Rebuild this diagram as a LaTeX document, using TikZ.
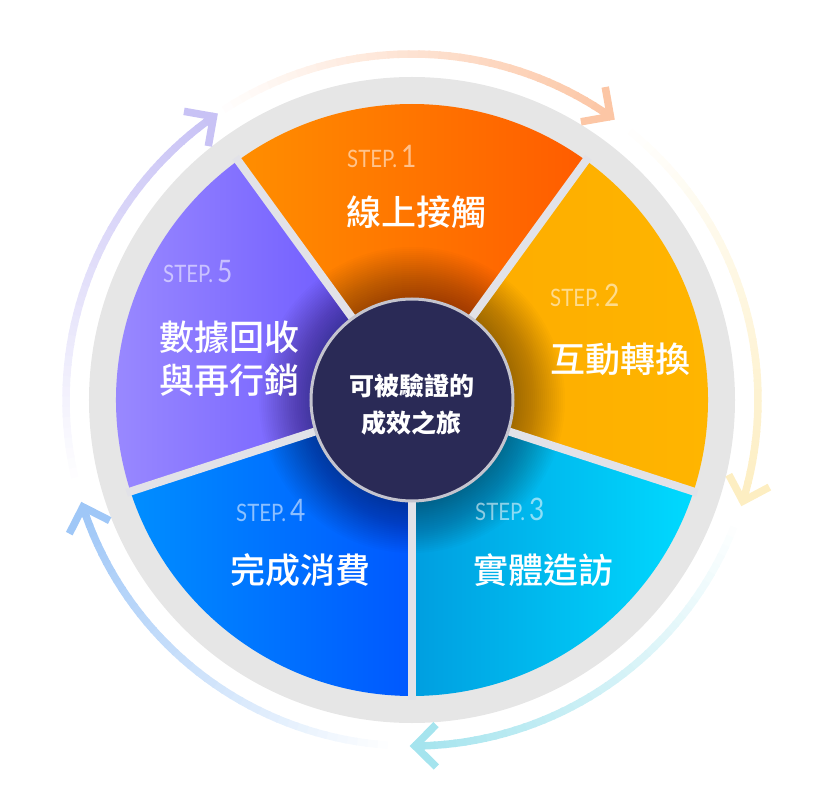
\documentclass[tikz,border=0pt]{standalone}
\usepackage{fontspec}
\usepackage{tikz}
\setmainfont{Lato}
\newfontfamily\cjk{Noto Sans CJK TC}
\newfontfamily\cjkmed{Noto Sans CJK TC}[UprightFont={* Medium}]
\newfontfamily\stepfont[FakeStretch=0.85]{Lato}

\definecolor{ringgray}{HTML}{E6E6E6}
\definecolor{gapgray}{HTML}{E2E2E8}
\definecolor{hubnavy}{HTML}{2A2A56}
\definecolor{hubrim}{HTML}{C4C4CE}
\definecolor{peach}{HTML}{FCC6A5}
\definecolor{cream}{HTML}{FDEEC2}
\definecolor{aqua}{HTML}{A5E4EE}
\definecolor{skyblue}{HTML}{9FC7F7}
\definecolor{lavender}{HTML}{C8C2F5}

\tikzset{
	steplabel/.style={anchor=base west, inner sep=0pt, text=white, text opacity=0.55,
		font=\stepfont\fontsize{24}{24}\selectfont},
	stagelabel/.style={anchor=west, inner sep=0pt, text=white, align=left,
		font=\cjkmed\fontsize{35}{43}\selectfont},
}

\newcommand{\stepno}[1]{STEP.\,{\fontsize{31}{31}\selectfont #1}}

\begin{document}
\begin{tikzpicture}[x=1pt, y=1pt, >=stealth]
	\useasboundingbox (-412, -400) rectangle (423, 400);

	\fill[ringgray] (0, 0) circle [radius=323pt];

	\shade[left color={rgb,255:red,255;green,142;blue,0}, right color={rgb,255:red,255;green,92;blue,0}]
		(0, 0) -- (54:296pt) arc [start angle=54, end angle=126, radius=296pt] -- cycle;
	\shade[left color={rgb,255:red,253;green,170;blue,0}, right color={rgb,255:red,255;green,182;blue,0}]
		(0, 0) -- (-18:296pt) arc [start angle=-18, end angle=54, radius=296pt] -- cycle;
	\shade[left color={rgb,255:red,0;green,158;blue,224}, right color={rgb,255:red,0;green,218;blue,255}]
		(0, 0) -- (-90:296pt) arc [start angle=-90, end angle=-18, radius=296pt] -- cycle;
	\shade[left color={rgb,255:red,0;green,142;blue,255}, right color={rgb,255:red,0;green,88;blue,255}]
		(0, 0) -- (198:296pt) arc [start angle=198, end angle=270, radius=296pt] -- cycle;
	\shade[left color={rgb,255:red,157;green,141;blue,255}, right color={rgb,255:red,101;green,80;blue,255}]
		(0, 0) -- (126:296pt) arc [start angle=126, end angle=198, radius=296pt] -- cycle;

	% shadow round the hub
	\foreach \r in {101, 103, ..., 153}
		\fill[black, opacity=0.016] (0, 0) circle [radius=\r pt];

	\foreach \a in {54, 126, 198, 270, 342}
		\draw[gapgray, line width=8pt] (0, 0) -- (\a:300pt);

	\fill[hubnavy, draw=hubrim, line width=3pt] (0, 0) circle [radius=101pt];

	% outer arrows, fading in
	\foreach \e/\c in {55/peach, -17/cream, -89.5/aqua, -162/skyblue, 125/lavender} {
		\foreach \k in {0, ..., 39} {
			\pgfmathsetmacro{\a}{\e + 68 - \k*1.7}
			\pgfmathsetmacro{\b}{\a - 2.0}
			\pgfmathsetmacro{\p}{2.5*(\k + 1)}
			\draw[line width=7.5pt, \c!\p!white] (\a:346pt) arc [start angle=\a, end angle=\b, radius=346pt];
		}
		\coordinate (tip) at (\e:346pt);
		\draw[line width=7.5pt, \c, line join=miter] (tip) ++(\e+45:30pt) -- (tip) -- ++(\e+135:30pt);
	}

	\node[steplabel] (s1) at (-65, 232) {\stepno{1}};
	\node[stagelabel] (t1) at (-66, 188) {線上接觸};
	\node[steplabel] (s2) at (138, 93) {\stepno{2}};
	\node[stagelabel] (t2) at (138, 41) {互動轉換};
	\node[steplabel] (s3) at (63, -120) {\stepno{3}};
	\node[stagelabel] (t3) at (61, -170) {實體造訪};
	\node[steplabel] (s4) at (-176, -121) {\stepno{4}};
	\node[stagelabel] (t4) at (-182, -170) {完成消費};
	\node[steplabel] (s5) at (-249, 117) {\stepno{5}};
	\node[stagelabel] (t5) at (-253, 41.5) {數據回收\\與再行銷};

	\node[text=white, align=center, font=\cjk\bfseries\fontsize{25}{37}\selectfont] (hub) at (0, -4.5)
		{可被驗證的\\成效之旅};
\end{tikzpicture}
\end{document}
